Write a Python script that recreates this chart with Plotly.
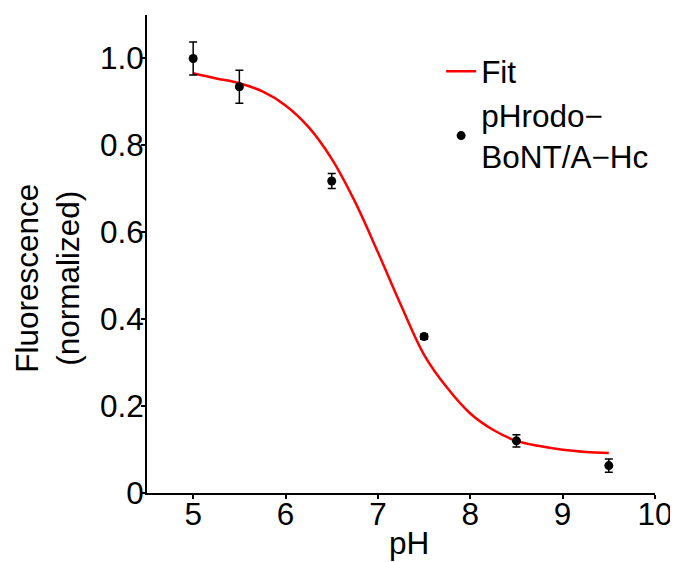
import plotly.graph_objects as go

# Measured data
ph = [5.0, 5.5, 6.5, 7.5, 8.5, 9.5]
fluor = [1.000, 0.935, 0.718, 0.360, 0.120, 0.063]
fluor_err = [0.038, 0.038, 0.017, 0.006, 0.014, 0.015]

# Fit curve
fit_ph = [5.0, 5.25, 5.5, 5.75, 6.0, 6.25, 6.5, 6.75, 7.0, 7.25, 7.5, 7.75,
          8.0, 8.25, 8.5, 8.75, 9.0, 9.25, 9.5]
fit_val = [0.966, 0.954, 0.943, 0.924, 0.892, 0.842, 0.769, 0.671, 0.554, 0.432,
           0.318, 0.242, 0.183, 0.145, 0.120, 0.108, 0.0995, 0.0946, 0.092]

x_ticks = [5, 6, 7, 8, 9, 10]
y_ticks = [0, 0.2, 0.4, 0.6, 0.8, 1.0]
y_tick_text = ["0", "0.2", "0.4", "0.6", "0.8", "1.0"]

FONT = "Arial, Liberation Sans, sans-serif"
FS = 31.5

fig = go.Figure()
fig.add_trace(go.Scatter(
    x=fit_ph, y=fit_val, mode="lines", name="Fit",
    line=dict(color="#ff0000", width=2.5, shape="spline"),
))
fig.add_trace(go.Scatter(
    x=ph, y=fluor, mode="markers", name="pHrodo−<br>BoNT/A−Hc",
    marker=dict(color="black", size=9),
    error_y=dict(type="data", array=fluor_err, color="black", thickness=1.5, width=4),
))

fig.update_layout(
    width=670, height=554,
    margin=dict(l=139, r=23, t=7, b=69, autoexpand=False),
    plot_bgcolor="white", paper_bgcolor="white",
    font=dict(family=FONT, size=FS, color="black"),
    showlegend=True,
    legend=dict(x=0.579, y=0.939, xanchor="left", yanchor="top",
                bgcolor="rgba(0,0,0,0)", font=dict(size=FS, family=FONT),
                tracegroupgap=0),
    xaxis=dict(range=[4.5, 10], tickvals=x_ticks, showline=True, linecolor="black",
               linewidth=2, ticks="outside", ticklen=4, tickwidth=1.5, tickcolor="black",
               showgrid=False, zeroline=False, tickfont=dict(size=FS),
               ticklabelstandoff=-12, ticklabeloverflow="allow"),
    yaxis=dict(range=[0, 1.1], tickvals=y_ticks, ticktext=y_tick_text, showline=True,
               linecolor="black", linewidth=2, ticks="outside", ticklen=4, tickwidth=1.5,
               tickcolor="black", showgrid=False, zeroline=False, tickfont=dict(size=FS),
               ticklabelstandoff=-9),
    annotations=[
        dict(text="Fluorescence<br>(normalized)", textangle=-90, showarrow=False,
             xref="paper", yref="paper", x=-0.196, y=0.449, xanchor="center",
             yanchor="middle", font=dict(size=FS, family=FONT)),
        dict(text="pH", showarrow=False, xref="paper", yref="paper", x=0.516, y=-0.105,
             xanchor="center", yanchor="middle", font=dict(size=FS, family=FONT)),
    ],
)

fig.write_html("out.html")
